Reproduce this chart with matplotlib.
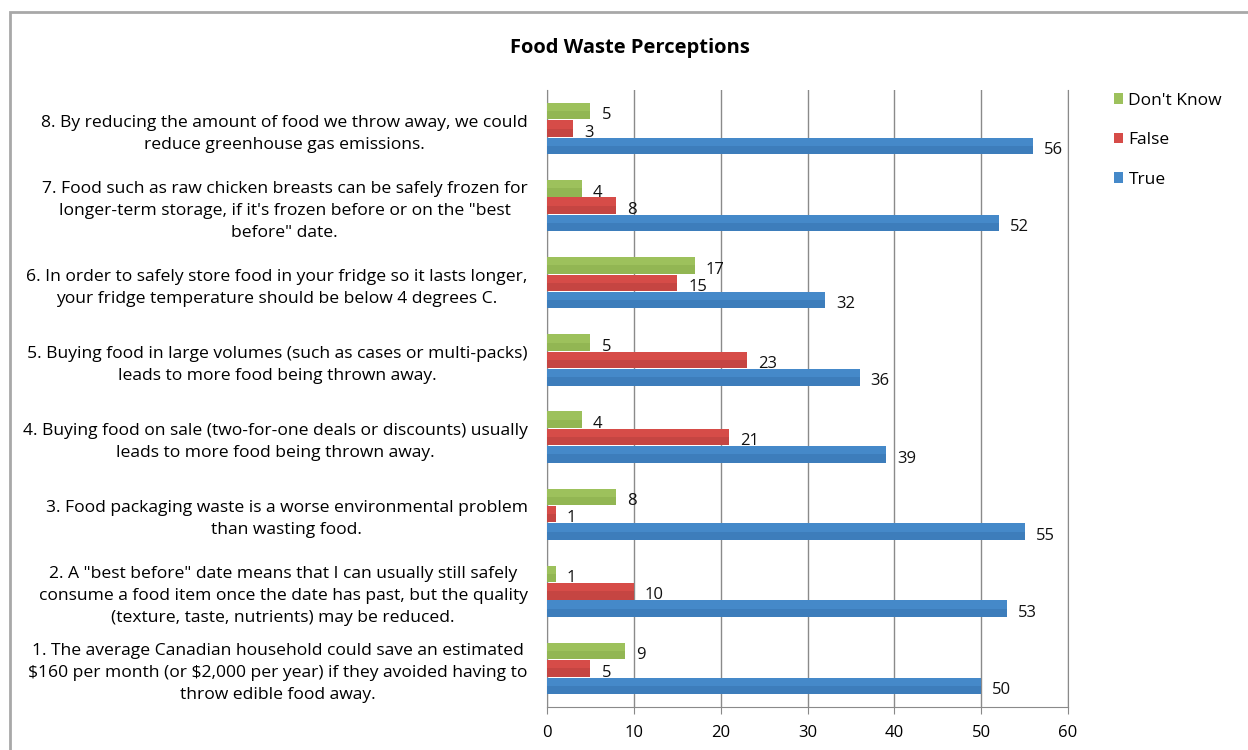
import matplotlib
matplotlib.use("Agg")
import matplotlib.pyplot as plt
import numpy as np
from matplotlib.patches import Rectangle

plt.rcParams["font.family"] = ["Open Sans", "DejaVu Sans"]

categories = [
    "1. The average Canadian household could save an estimated\n\\$160 per month (or \\$2,000 per year) if they avoided having to\nthrow edible food away.",
    "2. A \"best before\" date means that I can usually still safely\nconsume a food item once the date has past, but the quality\n(texture, taste, nutrients) may be reduced.",
    "3. Food packaging waste is a worse environmental problem\nthan wasting food.",
    "4. Buying food on sale (two-for-one deals or discounts) usually\nleads to more food being thrown away.",
    "5. Buying food in large volumes (such as cases or multi-packs)\nleads to more food being thrown away.",
    "6. In order to safely store food in your fridge so it lasts longer,\nyour fridge temperature should be below 4 degrees C.",
    "7. Food such as raw chicken breasts can be safely frozen for\nlonger-term storage, if it's frozen before or on the \"best\nbefore\" date.",
    "8. By reducing the amount of food we throw away, we could\nreduce greenhouse gas emissions.",
]
true_vals = [50, 53, 55, 39, 36, 32, 52, 56]
false_vals = [5, 10, 1, 21, 23, 15, 8, 3]
dont_know_vals = [9, 1, 8, 4, 5, 17, 4, 5]

series = [
    ("True", true_vals, "#4589c9", "#3d7dbb"),
    ("False", false_vals, "#d64c48", "#c54542"),
    ("Don't Know", dont_know_vals, "#9dc15c", "#92b653"),
]

fig = plt.figure(figsize=(12.48, 7.5), dpi=100)
ax = fig.add_axes([547 / 1248, 1 - 707 / 750, (1068 - 547) / 1248, (707 - 90) / 750])

y = np.arange(len(categories))
h = 0.225
offsets = [-h, 0.0, h]
handles = []
for (name, vals, col, dark), off in zip(series, offsets):
    bars = ax.barh(y + off, vals, height=h * 0.95, color=col, zorder=3, label=name)
    # slightly darker lower band to mimic the shaded bars
    ax.barh(y + off - h * 0.95 * 0.25, vals, height=h * 0.95 * 0.5, color=dark, zorder=3)
    handles.append(bars)
    for yi, v in zip(y + off, vals):
        ax.annotate(str(v), (v, yi), xytext=(8, -3), textcoords="offset points",
                    ha="left", va="center", fontsize=12, color="#111111", zorder=4)

ax.set_xlim(0, 60)
ax.set_ylim(-0.5, len(categories) - 0.5)
ax.set_xticks(np.arange(0, 61, 10))
ax.tick_params(axis="x", labelsize=12, length=5, color="#888888", pad=8)
ax.set_yticks(y)
ax.set_yticklabels(categories, fontsize=12.6, multialignment="center", linespacing=1.5)
ax.tick_params(axis="y", length=0, pad=14)
ax.xaxis.grid(True, color="#8a8a8a", linewidth=1, zorder=0)
ax.spines["top"].set_visible(False)
for s in ("left", "bottom", "right"):
    ax.spines[s].set_color("#8a8a8a")

fig.text(630 / 1248, 1 - 48 / 750, "Food Waste Perceptions", ha="center", va="center",
         fontsize=14.5, fontweight="bold")

leg = fig.legend([handles[2], handles[1], handles[0]], ["Don't Know", "False", "True"],
                 loc="upper left", bbox_to_anchor=(1098 / 1248, 1 - 77 / 750),
                 frameon=False, fontsize=12.5, handlelength=0.55, handleheight=0.55,
                 handletextpad=0.3, labelspacing=1.35)

# outer chart border
fig.patches.append(Rectangle((10 / 1248, -0.1), 1.2, 1 - 12 / 750 + 0.1,
                             transform=fig.transFigure, fill=False,
                             edgecolor="#a8a8a8", linewidth=2))

fig.savefig("out.png", dpi=100)
